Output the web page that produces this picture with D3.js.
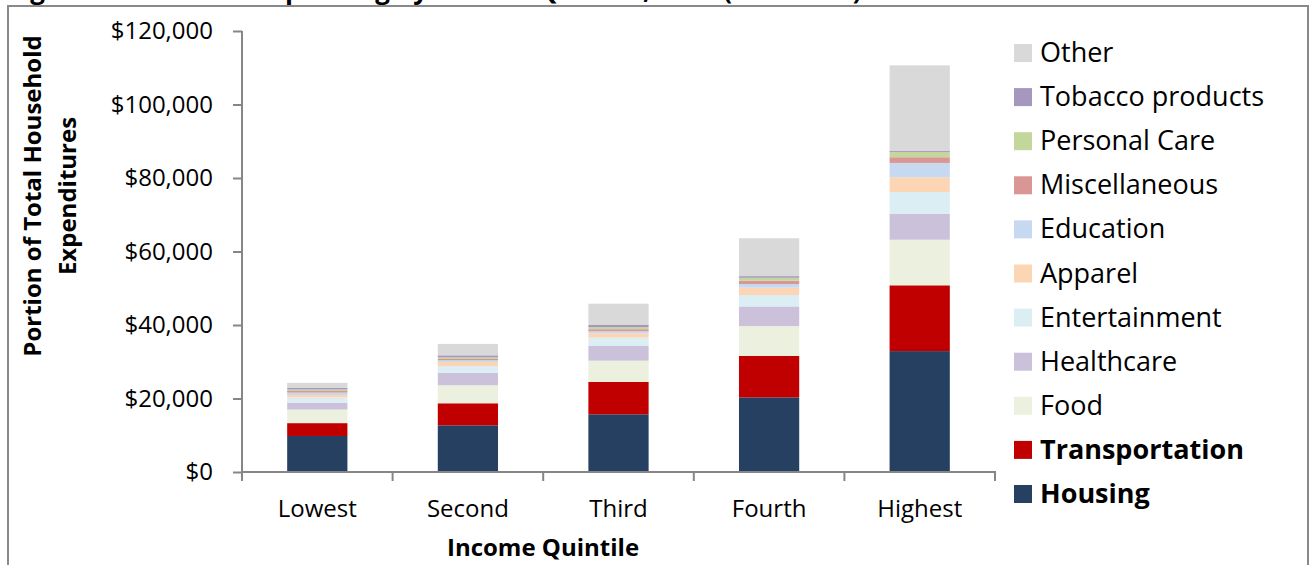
<!DOCTYPE html>
<html>
<head>
<meta charset="utf-8">
<script src="https://cdn.jsdelivr.net/npm/d3@7"></script>
<style>
  body { margin: 0; background: #fff; }
  svg { display: block; font-family: "Open Sans", "Noto Sans", sans-serif; }
  .axis path, .axis line { stroke: #868686; }
</style>
</head>
<body>
<div id="chart"></div>
<script>
// data (dollars per household)
var quintiles = ["Lowest", "Second", "Third", "Fourth", "Highest"]
var categories = ["Housing", "Transportation", "Food", "Healthcare", "Entertainment",
  "Apparel", "Education", "Miscellaneous", "Personal Care", "Tobacco products", "Other"]

var housing = [9800, 12700, 15700, 20300, 32900]
var transportation = [3500, 6000, 8800, 11300, 17900]
var food = [3700, 4900, 5800, 8100, 12400]
var healthcare = [1900, 3400, 4100, 5350, 7100]
var entertainment = [1350, 1800, 2150, 3100, 5900]
var apparel = [700, 1150, 1200, 2000, 4000]
var education = [650, 450, 550, 1000, 3900]
var miscellaneous = [450, 350, 550, 900, 1550]
var personalCare = [400, 450, 550, 800, 1450]
var tobacco = [400, 550, 600, 450, 350]
var other = [1400, 3100, 5800, 10300, 23200]

var yTicks = [0, 20000, 40000, 60000, 80000, 100000, 120000]

var colors = ["#254061", "#c00000", "#ebf1de", "#ccc1da", "#dbeef4",
  "#fcd5b5", "#c6d9f1", "#d99694", "#c3d69b", "#a597bd", "#d9d9d9"]

var seriesValues = [housing, transportation, food, healthcare, entertainment,
  apparel, education, miscellaneous, personalCare, tobacco, other]

var rows = quintiles.map(function (q, i) {
  var r = { quintile: q }
  categories.forEach(function (c, k) { r[c] = seriesValues[k][i] })
  return r
})

var width = 1310, height = 565

var svg = d3.select("#chart").append("svg")
  .attr("width", width)
  .attr("height", height)

// outer frame
svg.append("rect")
  .attr("x", 8).attr("y", 6)
  .attr("width", 1300).attr("height", 580)
  .attr("fill", "none")
  .attr("stroke", "#898989")
  .attr("stroke-width", 2)

// title, mostly cut off at the top edge (as in the original)
svg.append("text")
  .attr("x", 8).attr("y", -1)
  .attr("font-weight", "bold")
  .attr("font-size", 26)
  .text("Figure 1: Household Spending by Income Quintile, 2013 (in dollars)")

var xPositionScale = d3.scaleBand()
  .domain(quintiles)
  .range([242, 995])
  .paddingInner(0.6)
  .paddingOuter(0.3)

var yPositionScale = d3.scaleLinear()
  .domain([0, 120000])
  .range([472, 31])

var color = d3.scaleOrdinal().domain(categories).range(colors)

var stacked = d3.stack().keys(categories)(rows)

svg.selectAll(".layer")
  .data(stacked)
  .enter().append("g")
  .attr("class", "layer")
  .attr("fill", function (d) { return color(d.key) })
  .selectAll("rect")
  .data(function (d) { return d })
  .enter().append("rect")
  .attr("x", function (d) { return xPositionScale(d.data.quintile) })
  .attr("y", function (d) { return yPositionScale(d[1]) })
  .attr("height", function (d) { return yPositionScale(d[0]) - yPositionScale(d[1]) })
  .attr("width", xPositionScale.bandwidth())

// y axis
var yAxis = d3.axisLeft(yPositionScale)
  .tickValues(yTicks)
  .tickSize(9)
  .tickPadding(20)
  .tickFormat(function (d) { return "$" + d3.format(",")(d) })

svg.append("g")
  .attr("class", "axis y-axis")
  .attr("transform", "translate(242,0)")
  .call(yAxis)
  .attr("font-family", null)
  .attr("font-size", 24)
  .call(function (g) {
    g.select(".domain").attr("stroke-width", 2).attr("d", "M0,31V481")
    g.selectAll(".tick line").attr("stroke-width", 2)
    g.selectAll("text").attr("fill", "#000")
  })

// x axis
var xAxis = d3.axisBottom(xPositionScale).tickSize(0).tickPadding(28)

svg.append("g")
  .attr("class", "axis x-axis")
  .attr("transform", "translate(0,472)")
  .call(xAxis)
  .attr("font-family", null)
  .attr("font-size", 24)
  .call(function (g) {
    g.select(".domain").attr("stroke-width", 2).attr("d", "M242,0H996")
    g.selectAll("text").attr("fill", "#000")
  })

// category boundary ticks
var step = xPositionScale.step()
svg.append("g")
  .selectAll("line")
  .data(d3.range(1, quintiles.length + 1))
  .enter().append("line")
  .attr("x1", function (i) { return 242 + i * step })
  .attr("x2", function (i) { return 242 + i * step })
  .attr("y1", 472).attr("y2", 481)
  .attr("stroke", "#868686")
  .attr("stroke-width", 2)

// axis titles
svg.append("text")
  .attr("transform", "translate(41,196) rotate(-90)")
  .attr("text-anchor", "middle")
  .attr("font-weight", "bold")
  .attr("font-size", 24)
  .text("Portion of Total Household")

svg.append("text")
  .attr("transform", "translate(76,196) rotate(-90)")
  .attr("text-anchor", "middle")
  .attr("font-weight", "bold")
  .attr("font-size", 24)
  .text("Expenditures")

svg.append("text")
  .attr("x", 543).attr("y", 556)
  .attr("text-anchor", "middle")
  .attr("font-weight", "bold")
  .attr("font-size", 24)
  .text("Income Quintile")

// legend, top item is the last series
var legend = svg.append("g")
  .selectAll("g")
  .data(categories.slice().reverse())
  .enter().append("g")
  .attr("transform", function (d, i) { return "translate(1014," + (53 + i * 44.1) + ")" })

legend.append("rect")
  .attr("x", 0).attr("y", -9)
  .attr("width", 18).attr("height", 18)
  .attr("fill", function (d) { return color(d) })

legend.append("text")
  .attr("x", 26).attr("y", 9)
  .attr("font-size", 27)
  .attr("font-weight", function (d) { return (d == "Housing" || d == "Transportation") ? "bold" : "normal" })
  .text(function (d) { return d })
</script>
</body>
</html>
